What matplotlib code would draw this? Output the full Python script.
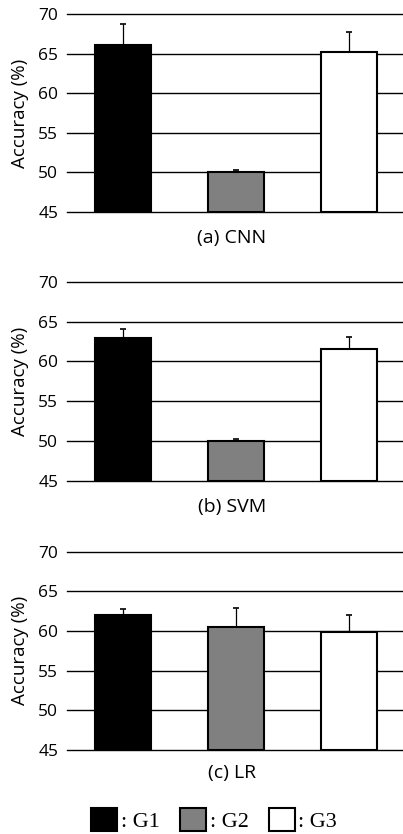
import matplotlib
matplotlib.use("Agg")
import matplotlib.pyplot as plt
from matplotlib.patches import Patch

groups = ["G1", "G2", "G3"]
colors = ["#000000", "#808080", "#ffffff"]
panels = ["(a) CNN", "(b) SVM", "(c) LR"]
cnn_mean = [66.1, 50.1, 65.2]
cnn_err = [2.6, 0.15, 2.5]
svm_mean = [62.9, 50.0, 61.6]
svm_err = [1.2, 0.2, 1.5]
lr_mean = [62.05, 60.55, 59.85]
lr_err = [0.75, 2.3, 2.15]
yticks = [45, 50, 55, 60, 65, 70]

means = [cnn_mean, svm_mean, lr_mean]
errs = [cnn_err, svm_err, lr_err]

plt.rcParams['font.family'] = ['Open Sans', 'DejaVu Sans']

fig = plt.figure(figsize=(4.03, 8.34), dpi=100)
W, H = 403.0, 834.0
left = 66.7 / W
width = (405.5 - 66.7) / W
tops = [14.0, 281.7, 551.7]
bottoms = [212.0, 480.7, 750.0]
title_y = [238.0, 507.0, 773.0]

for i in range(3):
    ax = fig.add_axes([left, 1 - bottoms[i] / H, width, (bottoms[i] - tops[i]) / H])
    ax.set_ylim(45, 70)
    ax.set_xlim(-0.5, 2.5)
    ax.set_yticks(yticks)
    for t in yticks:
        ax.axhline(t, color='black', lw=1.0, zorder=1, clip_on=False)
    x = list(range(len(groups)))
    ax.bar(x, [m - 45 for m in means[i]], bottom=45, width=0.5, color=colors,
           edgecolor='black', linewidth=1.5, zorder=3)
    ax.errorbar(x, means[i], yerr=[[0] * 3, errs[i]], fmt='none', ecolor='black',
                elinewidth=0.9, capsize=2, capthick=1.2, zorder=2)
    for s in ax.spines.values():
        s.set_visible(False)
    ax.set_xticks([])
    ax.tick_params(axis='y', length=0, pad=6, labelsize=12.5)
    ax.set_ylabel("Accuracy (%)", fontsize=13.5)
    ax.yaxis.set_label_coords(-(66.7 - 29) / (width * W), 0.5)
    fig.text(232 / W, 1 - title_y[i] / H, panels[i], ha='center',
             va='center', fontsize=14)

handles = [Patch(facecolor=c, edgecolor='black', linewidth=1.5) for c in colors]
labels = [": " + g for g in groups]
fig.legend(handles, labels, loc='center', bbox_to_anchor=(214 / W, 1 - 820 / H),
           ncol=3, frameon=False, prop={'family': 'Liberation Serif', 'size': 16},
           handlelength=1.2, handleheight=1.2, handletextpad=0.15, columnspacing=0.9,
           borderpad=0, borderaxespad=0)

fig.savefig("out.png", dpi=100)
